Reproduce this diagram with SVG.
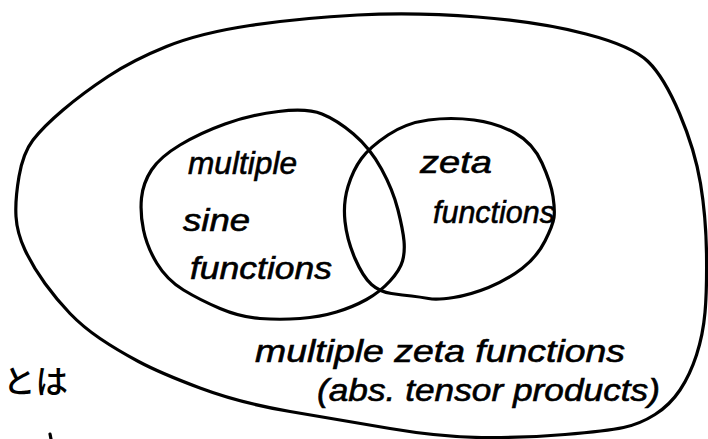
<svg xmlns="http://www.w3.org/2000/svg" width="708" height="439" viewBox="0 0 708 439">
  <style>
    .ln { fill: none; stroke: #000; stroke-width: 3.2; stroke-linecap: round; stroke-linejoin: round; }
    .hw { font-family: "Liberation Sans", "DejaVu Sans", sans-serif; font-style: italic; font-size: 32px; fill: #000; stroke: #000; stroke-width: 0.6; }
    .jp { font-family: "Noto Sans CJK JP", "Noto Sans", sans-serif; font-size: 32px; font-weight: 500; fill: #000; }
  </style>
  <rect width="708" height="439" fill="#fff"/>
  <g id="outer-set">
    <path class="ln" d="M 19,176.5 Q 23,153 33,140 Q 43,127 63,110 Q 83,93 108,76.5 Q 133,60 166.5,46.5 Q 200,33 250,25.5 Q 300,18 357.5,15 Q 415,12 477.5,17 Q 540,22 586,34 Q 632,46 648,61.5 Q 664,77 679.5,113.5 Q 695,150 700.5,183.5 Q 706,217 706.5,253.5 Q 707,290 705,312.5 Q 703,335 696.5,355 Q 690,375 680,390 Q 670,405 655,414.5 Q 640,424 623.5,427.5 Q 607,431 565,434.5 Q 523,438 481.5,437.5 Q 440,437 390,428.5 Q 340,420 290,411.5 Q 240,403 200,388 Q 160,373 138.5,361.5 Q 117,350 100,338.5 Q 83,327 70,313.5 Q 57,300 45,283.5 Q 33,267 25,250 Q 17,233 16,216.5 Q 15,200 19,176.5 Z"/>
    <text class="hw" x="255" y="362" textLength="370" lengthAdjust="spacingAndGlyphs">multiple zeta functions</text>
    <text class="hw" x="317" y="401" textLength="343" lengthAdjust="spacingAndGlyphs">(abs. tensor products)</text>
  </g>
  <g id="sine-set">
    <path class="ln" d="M 322,114 Q 337,120 353.5,134 Q 370,148 381.5,169 Q 393,190 398,210 Q 403,230 404,241 Q 405,252 402.5,261 Q 400,270 390,281 Q 380,292 366.5,299.5 Q 353,307 336.5,312 Q 320,317 300,318.5 Q 280,320 260,318.5 Q 240,317 220,308.5 Q 200,300 183.5,290 Q 167,280 157,263.5 Q 147,247 143.5,230 Q 140,213 141.5,198 Q 143,183 151.5,170 Q 160,157 180,145 Q 200,133 225,124 Q 250,115 278.5,111.5 Q 307,108 322,114 Z"/>
    <text class="hw" x="188" y="174" textLength="109" lengthAdjust="spacingAndGlyphs">multiple</text>
    <text class="hw" x="183" y="231" textLength="67" lengthAdjust="spacingAndGlyphs">sine</text>
    <text class="hw" x="190" y="279" textLength="142" lengthAdjust="spacingAndGlyphs">functions</text>
  </g>
  <g id="zeta-set">
    <path class="ln" d="M 474,120 Q 497,123 515,133 Q 533,143 542,163 Q 551,183 553,196.5 Q 555,210 554,217.5 Q 553,225 545,241 Q 537,257 522,268.5 Q 507,280 488.5,287.5 Q 470,295 453.5,297.5 Q 437,300 428.5,298.5 Q 420,297 411.5,296 Q 403,295 391.5,293.5 Q 380,292 371.5,284.5 Q 363,277 355,258.5 Q 347,240 345,221.5 Q 343,203 348,186.5 Q 353,170 361.5,158.5 Q 370,147 388,135 Q 406,123 428.5,120 Q 451,117 474,120 Z"/>
    <text class="hw" x="420" y="173" textLength="72" lengthAdjust="spacingAndGlyphs">zeta</text>
    <text class="hw" x="433" y="223" textLength="122" lengthAdjust="spacingAndGlyphs">functions</text>
  </g>
  <g id="note">
    <text class="jp" x="3" y="393" textLength="65" lengthAdjust="spacingAndGlyphs">とは</text>
    <path class="ln" d="M 50,434 L 51,439"/>
  </g>
</svg>
